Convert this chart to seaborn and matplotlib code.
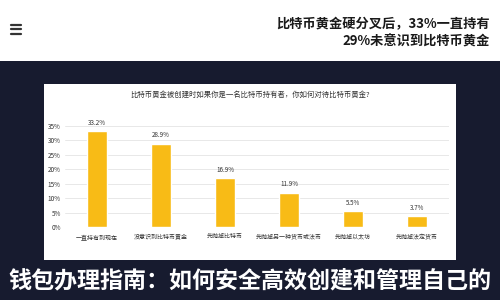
import matplotlib
matplotlib.use("Agg")
import matplotlib.pyplot as plt
import seaborn as sns
import pandas as pd
from matplotlib.patches import Rectangle
from matplotlib.lines import Line2D

categories = ["一直持有到现在", "没意识到比特币黄金", "先抛掉比特币",
              "先抛掉另一种货币或法币", "先抛掉以太坊", "先抛掉法定货币"]
values = [33.2, 28.9, 16.9, 11.9, 5.5, 3.7]
yticks = [0, 5, 10, 15, 20, 25, 30, 35]
chart_title = "比特币黄金被创建时如果你是一名比特币持有者，你如何对待比特币黄金?"
header_lines = ["比特币黄金硬分叉后，33%一直持有", "29%未意识到比特币黄金"]
footer = "钱包办理指南：如何安全高效创建和管理自己的"

sns.set_theme(style="white")
plt.rcParams['font.family'] = ['Noto Sans CJK SC', 'DejaVu Sans']

NAVY = "#171b2f"
GOLD = "#f8bb16"

fig = plt.figure(figsize=(5, 3), dpi=100)
fig.patch.set_facecolor(NAVY)
# white header
fig.add_artist(Rectangle((0, 0.797), 1, 0.203, transform=fig.transFigure,
                         facecolor="white", edgecolor="none", zorder=0))
# white chart panel
fig.add_artist(Rectangle((0.088, 0.1333), 0.824, 0.5867, transform=fig.transFigure,
                         facecolor="white", edgecolor="none", zorder=0))
# hamburger icon
for yy in [0.918, 0.903, 0.888]:
    fig.add_artist(Line2D([0.022, 0.042], [yy, yy], transform=fig.transFigure,
                          color="#333333", lw=1.6))
fig.text(0.98, 0.92, header_lines[0], ha="right", va="center", fontsize=9.5,
         fontweight="bold", color="#1a1a1a")
fig.text(0.98, 0.86, header_lines[1], ha="right", va="center", fontsize=9.5,
         fontweight="bold", color="#1a1a1a")

ax = fig.add_axes([0.13, 0.2433, 0.768, 0.3367])
ax.set_facecolor("white")
df = pd.DataFrame({"cat": categories, "val": values})
sns.barplot(data=df, x="cat", y="val", color=GOLD, width=0.31, ax=ax,
            saturation=1)
ax.set_ylim(0, 35)
ax.set_xlim(-0.5, 5.5)
ax.set_yticks(yticks)
ax.set_yticklabels([f"{t}%" for t in yticks], fontsize=4.6, color="#333333")
ax.set_xticks(range(len(categories)))
ax.set_xticklabels(categories, fontsize=4.3, color="#333333")
ax.tick_params(axis="x", length=0, pad=5)
ax.tick_params(axis="y", length=0, pad=3)
ax.grid(axis="y", color="#e4e4e4", lw=0.6)
ax.set_axisbelow(True)
for s in ax.spines.values():
    s.set_visible(False)
ax.set_xlabel("")
ax.set_ylabel("")
for i, v in enumerate(values):
    ax.text(i, v + 1.6, f"{v}%", ha="center", va="bottom", fontsize=4.5,
            color="#333333", clip_on=False)

fig.text(0.5, 0.683, chart_title, ha="center", va="center", fontsize=5.3,
         color="#333333")
fig.text(0.5, 0.063, footer, ha="center", va="center", fontsize=16.6,
         fontweight="bold", color="white")

fig.savefig("out.png", dpi=100, facecolor=fig.get_facecolor())
